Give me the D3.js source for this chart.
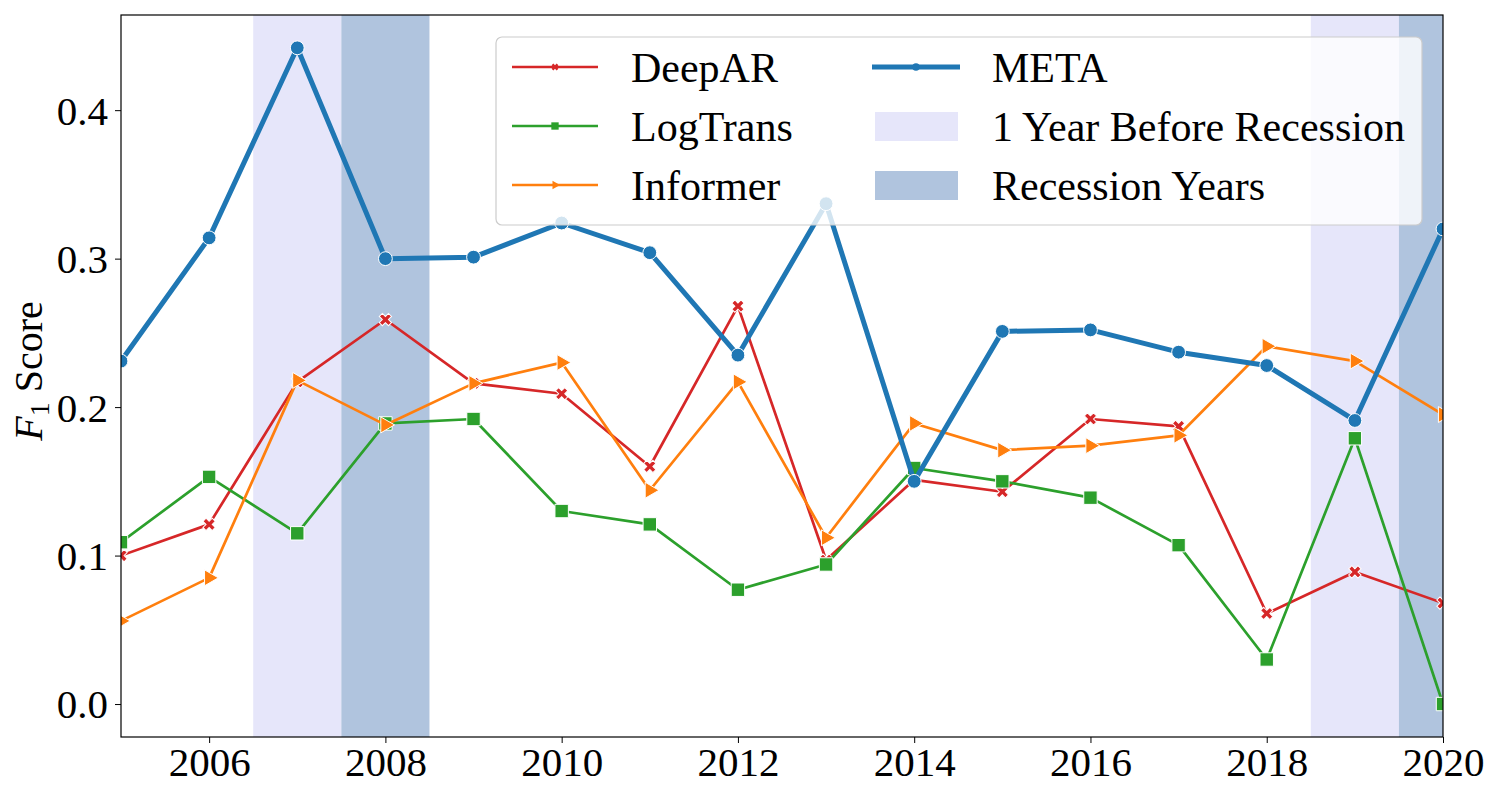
<!DOCTYPE html>
<html>
<head>
<meta charset="utf-8">
<script src="https://cdn.jsdelivr.net/npm/d3@7"></script>
<style>
	body { margin: 0; background: #fff; }
	text { font-family: "Liberation Serif", "Times New Roman", serif; }
</style>
</head>
<body>
<svg id="chart" width="1500" height="800"></svg>
<script>
(function() {

	var years = [2005, 2006, 2007, 2008, 2009, 2010, 2011, 2012, 2013, 2014, 2015, 2016, 2017, 2018, 2019, 2020];

	var deepAR   = [0.100, 0.121, 0.217, 0.259, 0.216, 0.209, 0.160, 0.268, 0.097, 0.151, 0.143, 0.192, 0.187, 0.061, 0.089, 0.068];
	var logTrans = [0.109, 0.153, 0.115, 0.189, 0.192, 0.130, 0.121, 0.077, 0.094, 0.159, 0.150, 0.139, 0.107, 0.030, 0.179, 0.000];
	var informer = [0.056, 0.085, 0.218, 0.188, 0.216, 0.230, 0.144, 0.217, 0.112, 0.189, 0.171, 0.174, 0.181, 0.241, 0.231, 0.195];
	var meta     = [0.231, 0.314, 0.442, 0.300, 0.301, 0.324, 0.304, 0.235, 0.337, 0.150, 0.251, 0.252, 0.237, 0.228, 0.191, 0.320];

	var beforeRecession = [2007, 2019];
	var recessionYears  = [2008, 2020];

	var xTicks = [2006, 2008, 2010, 2012, 2014, 2016, 2018, 2020];
	var yTicks = [0.0, 0.1, 0.2, 0.3, 0.4];

	var left = 121, right = 1443, top = 15, bottom = 737;

	var svg = d3.select('#chart');

	var x = d3.scaleLinear()
		.domain([2005, 2020])
		.range([left, right]);

	var y = d3.scaleLinear()
		.domain([-0.0222, 0.4641])
		.range([bottom, top]);

	svg.append('defs').append('clipPath')
		.attr('id', 'plotClip')
		.append('rect')
		.attr('x', left)
		.attr('y', top)
		.attr('width', right - left)
		.attr('height', bottom - top);

	var plot = svg.append('g')
		.attr('clip-path', 'url(#plotClip)');

	// shaded years
	plot.append('g').selectAll('rect')
		.data(beforeRecession)
		.enter()
		.append('rect')
		.attr('x', function(d) { return x(d - 0.5); })
		.attr('y', top)
		.attr('width', function(d) { return x(d + 0.5) - x(d - 0.5); })
		.attr('height', bottom - top)
		.attr('fill', '#e6e6fa');

	plot.append('g').selectAll('rect')
		.data(recessionYears)
		.enter()
		.append('rect')
		.attr('x', function(d) { return x(d - 0.5); })
		.attr('y', top)
		.attr('width', function(d) { return x(d + 0.5) - x(d - 0.5); })
		.attr('height', bottom - top)
		.attr('fill', '#b0c4de');

	var series = [
		{ name: 'DeepAR', values: deepAR, color: '#d62728', width: 2.7, symbol: d3.symbolCross, size: 95, rotate: 45 },
		{ name: 'LogTrans', values: logTrans, color: '#2ca02c', width: 2.7, symbol: d3.symbolSquare, size: 180, rotate: 0 },
		{ name: 'Informer', values: informer, color: '#ff7f0e', width: 2.7, symbol: d3.symbolTriangle, size: 110, rotate: 90 },
		{ name: 'META', values: meta, color: '#1f77b4', width: 5, symbol: d3.symbolCircle, size: 150, rotate: 0 }
	];

	var line = d3.line()
		.x(function(d) { return x(d[0]); })
		.y(function(d) { return y(d[1]); });

	series.forEach(function(s) {
		var pts = years.map(function(yr, i) { return [yr, s.values[i]]; });

		plot.append('path')
			.datum(pts)
			.attr('d', line)
			.attr('fill', 'none')
			.attr('stroke', s.color)
			.attr('stroke-width', s.width)
			.attr('stroke-linejoin', 'round');

		plot.append('g').selectAll('path')
			.data(pts)
			.enter()
			.append('path')
			.attr('d', d3.symbol().type(s.symbol).size(s.size))
			.attr('transform', function(d) {
				return 'translate(' + x(d[0]) + ',' + y(d[1]) + ') rotate(' + s.rotate + ')';
			})
			.attr('fill', s.color)
			.attr('stroke', '#fff')
			.attr('stroke-width', 1);
	});

	// axes
	var xAxis = svg.append('g')
		.attr('transform', 'translate(0,' + bottom + ')')
		.call(d3.axisBottom(x).tickValues(xTicks).tickFormat(d3.format('d')).tickSize(6).tickPadding(4));

	var yAxis = svg.append('g')
		.attr('transform', 'translate(' + left + ',0)')
		.call(d3.axisLeft(y).tickValues(yTicks).tickFormat(d3.format('.1f')).tickSize(6).tickPadding(7));

	[xAxis, yAxis].forEach(function(a) {
		a.select('.domain').remove();
		a.selectAll('line').attr('stroke', '#000').attr('stroke-width', 1);
		a.selectAll('text')
			.attr('fill', '#000')
			.style('font-size', '41px')
			.style('font-family', '"Liberation Serif", serif');
	});

	yAxis.selectAll('text').attr('dy', '0.34em');

	svg.append('rect')
		.attr('x', left)
		.attr('y', top)
		.attr('width', right - left)
		.attr('height', bottom - top)
		.attr('fill', 'none')
		.attr('stroke', '#000')
		.attr('stroke-width', 1.2);

	var yLabel = svg.append('text')
		.attr('transform', 'translate(42,371) rotate(-90)')
		.attr('text-anchor', 'middle')
		.style('font-size', '40px');

	yLabel.append('tspan')
		.style('font-style', 'italic')
		.text('F');
	yLabel.append('tspan')
		.attr('dy', 7)
		.style('font-size', '28px')
		.text('1');
	yLabel.append('tspan')
		.attr('dy', -7)
		.text(' Score');

	// legend
	var legend = svg.append('g');

	legend.append('rect')
		.attr('x', 496)
		.attr('y', 37)
		.attr('width', 926)
		.attr('height', 188)
		.attr('rx', 6)
		.attr('fill', '#fff')
		.attr('fill-opacity', 0.8)
		.attr('stroke', '#cccccc')
		.attr('stroke-width', 1.2);

	var rowY = [67, 126, 185];

	series.slice(0, 3).forEach(function(s, i) {
		legend.append('line')
			.attr('x1', 512)
			.attr('x2', 598)
			.attr('y1', rowY[i])
			.attr('y2', rowY[i])
			.attr('stroke', s.color)
			.attr('stroke-width', s.width);
		legend.append('path')
			.attr('d', d3.symbol().type(s.symbol).size(s.size * 0.3))
			.attr('transform', 'translate(555,' + rowY[i] + ') rotate(' + s.rotate + ')')
			.attr('fill', s.color);
		legend.append('text')
			.attr('x', 631)
			.attr('y', rowY[i] + 15)
			.style('font-size', '42px')
			.text(s.name);
	});

	legend.append('line')
		.attr('x1', 872)
		.attr('x2', 960)
		.attr('y1', rowY[0])
		.attr('y2', rowY[0])
		.attr('stroke', series[3].color)
		.attr('stroke-width', 5);
	legend.append('path')
		.attr('d', d3.symbol().type(d3.symbolCircle).size(45))
		.attr('transform', 'translate(916,' + rowY[0] + ')')
		.attr('fill', series[3].color);
	legend.append('text')
		.attr('x', 992)
		.attr('y', rowY[0] + 15)
		.style('font-size', '42px')
		.text('META');

	var patches = [
		{ label: '1 Year Before Recession', color: '#e6e6fa' },
		{ label: 'Recession Years', color: '#b0c4de' }
	];

	patches.forEach(function(p, i) {
		legend.append('rect')
			.attr('x', 875)
			.attr('y', rowY[i + 1] - 14)
			.attr('width', 83)
			.attr('height', 29)
			.attr('fill', p.color);
		legend.append('text')
			.attr('x', 992)
			.attr('y', rowY[i + 1] + 15)
			.style('font-size', '42px')
			.text(p.label);
	});

})();
</script>
</body>
</html>
